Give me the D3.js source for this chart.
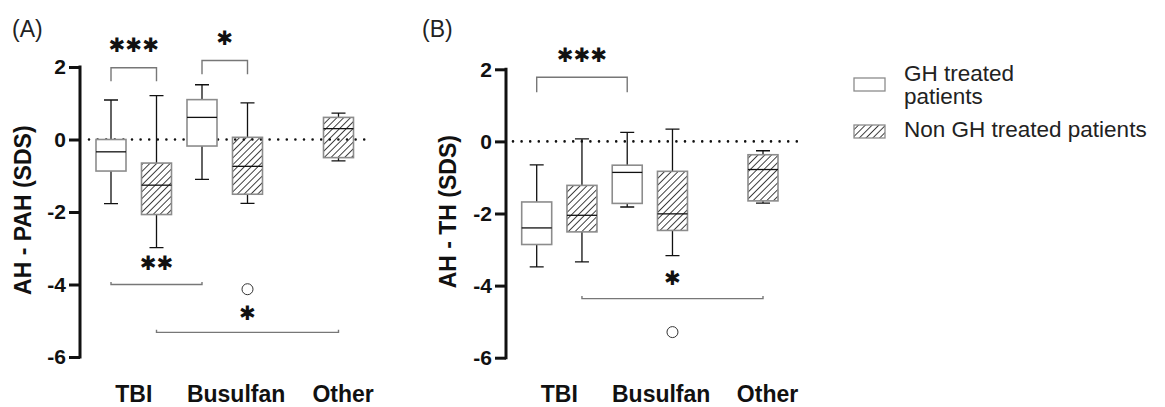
<!DOCTYPE html>
<html>
<head>
<meta charset="utf-8">
<script src="https://cdn.jsdelivr.net/npm/d3@7"></script>
<style>
  html, body { margin: 0; padding: 0; background: #fff; }
</style>
</head>
<body>
<div id="chart"></div>
<script>

// Data (box stats: whisker low, q1, median, q3, whisker high)
var categories = ['TBI', 'Busulfan', 'Other'];
var groups = ['GH treated patients', 'Non GH treated patients'];
var yTicks = [2, 0, -2, -4, -6];

// slot: 0 TBI/GH, 1 TBI/Non GH, 2 Busulfan/GH, 3 Busulfan/Non GH, 5 Other/Non GH
var boxesA = [
  { slot: 0, group: 0, stats: [-1.77, -0.87, -0.34, 0.00, 1.09] },
  { slot: 1, group: 1, stats: [-2.98, -2.07, -1.26, -0.65, 1.21] },
  { slot: 2, group: 0, stats: [-1.10, -0.18, 0.61, 1.10, 1.51] },
  { slot: 3, group: 1, stats: [-1.76, -1.51, -0.74, 0.06, 1.01] },
  { slot: 5, group: 1, stats: [-0.59, -0.50, 0.30, 0.61, 0.73] }
];
var outliersA = [{ slot: 3, value: -4.13 }];
var sigA = [
  { from: 0, to: 1, y: 1.98, leg: 1.61, label: '✱✱✱', labelY: 2.6 },
  { from: 2, to: 3, y: 2.18, leg: 1.80, label: '✱', labelY: 2.8 },
  { from: 0, to: 2, y: -4.00, leg: -3.93, label: '✱✱', labelY: -3.39 },
  { from: 1, to: 5, y: -5.32, leg: -5.25, label: '✱', labelY: -4.77 }
];

var boxesB = [
  { slot: 0, group: 0, stats: [-3.48, -2.86, -2.40, -1.68, -0.65] },
  { slot: 1, group: 1, stats: [-3.34, -2.51, -2.05, -1.22, 0.07] },
  { slot: 2, group: 0, stats: [-1.82, -1.72, -0.86, -0.66, 0.25] },
  { slot: 3, group: 1, stats: [-3.17, -2.47, -2.01, -0.83, 0.34] },
  { slot: 5, group: 1, stats: [-1.71, -1.65, -0.78, -0.37, -0.26] }
];
var outliersB = [{ slot: 3, value: -5.29 }];
var sigB = [
  { from: 0, to: 2, y: 1.78, leg: 1.36, label: '✱✱✱', labelY: 2.4 },
  { from: 1, to: 5, y: -4.36, leg: -4.29, label: '✱', labelY: -3.78 }
];

var font = 'Arial, "Liberation Sans", Helvetica, sans-serif';
var starFont = '"DejaVu Sans", sans-serif';

var svg = d3.select('#chart').append('svg')
  .attr('width', 1165)
  .attr('height', 407)
  .attr('font-family', font);

// hatch pattern for the non GH boxes
var defs = svg.append('defs');
defs.append('pattern')
  .attr('id', 'hatch')
  .attr('patternUnits', 'userSpaceOnUse')
  .attr('width', 4.8)
  .attr('height', 4.8)
  .attr('patternTransform', 'rotate(45)')
  .append('line')
  .attr('x1', 0).attr('y1', -1)
  .attr('x2', 0).attr('y2', 6)
  .attr('stroke', '#111')
  .attr('stroke-width', 1.6);

function fillFor(group) {
  return group === 1 ? 'url(#hatch)' : '#fff';
}

// ---------- one panel ----------
function drawPanel(p) {
  var g = svg.append('g');

  var y = d3.scaleLinear().domain([-6, 2]).range([p.yBottom, p.yTop]);
  var x = d3.scaleLinear().domain([0, 5]).range([p.slot0, p.slot5]);
  var boxW = 30, capW = 14;

  // panel tag
  g.append('text')
    .attr('x', p.tagX).attr('y', 37)
    .attr('font-size', 23)
    .attr('fill', '#222')
    .text(p.tag);

  // y axis
  var axis = g.append('g')
    .attr('transform', 'translate(' + p.axisX + ',0)')
    .call(d3.axisLeft(y).tickValues(yTicks).tickSize(11).tickPadding(3).tickFormat(d3.format('d')));
  axis.select('.domain').remove();
  axis.selectAll('.tick line').attr('stroke', '#111').attr('stroke-width', 3);
  axis.selectAll('.tick text')
    .attr('font-family', font)
    .attr('font-size', 21)
    .attr('font-weight', 'bold')
    .attr('fill', '#111')
    .text(function (d) { return d < 0 ? '-' + Math.abs(d) : d; });
  axis.append('line')
    .attr('x1', 0).attr('x2', 0)
    .attr('y1', y(2) - 1.5).attr('y2', y(-6) + 1.5)
    .attr('stroke', '#111').attr('stroke-width', 3);

  // y title
  g.append('text')
    .attr('transform', 'translate(' + p.titleX + ',' + y(-1.95) + ') rotate(-90)')
    .attr('text-anchor', 'middle')
    .attr('font-size', 23)
    .attr('font-weight', 'bold')
    .attr('fill', '#111')
    .text(p.title);

  // dotted zero line
  g.append('line')
    .attr('x1', p.dotFrom).attr('x2', p.dotTo)
    .attr('y1', y(0)).attr('y2', y(0))
    .attr('stroke', '#111')
    .attr('stroke-width', 2.6)
    .attr('stroke-linecap', 'round')
    .attr('stroke-dasharray', '0 8.6');

  // boxes
  var box = g.selectAll('.box').data(p.boxes).enter().append('g')
    .attr('class', 'box')
    .attr('transform', function (d) { return 'translate(' + x(d.slot) + ',0)'; });

  // whiskers: [end, box edge] for the upper and lower one, cap at the end
  box.selectAll('.whisker')
    .data(function (d) { return [[d.stats[4], d.stats[3]], [d.stats[0], d.stats[1]]]; })
    .enter().append('path')
    .attr('class', 'whisker')
    .attr('d', function (w) {
      return 'M0,' + y(w[0]) + 'V' + y(w[1]) +
        'M' + (-capW / 2) + ',' + y(w[0]) + 'H' + (capW / 2);
    })
    .attr('fill', 'none')
    .attr('stroke', '#111').attr('stroke-width', 1.3);
  box.append('rect')
    .attr('x', -boxW / 2)
    .attr('width', boxW)
    .attr('y', function (d) { return y(d.stats[3]); })
    .attr('height', function (d) { return y(d.stats[1]) - y(d.stats[3]); })
    .attr('fill', function (d) { return fillFor(d.group); })
    .attr('stroke', '#8c8c8c')
    .attr('stroke-width', 1.6);
  box.append('line')
    .attr('x1', -boxW / 2).attr('x2', boxW / 2)
    .attr('y1', function (d) { return y(d.stats[2]); })
    .attr('y2', function (d) { return y(d.stats[2]); })
    .attr('stroke', '#111').attr('stroke-width', 1.3);

  // outliers
  g.selectAll('.outlier').data(p.outliers).enter().append('circle')
    .attr('class', 'outlier')
    .attr('cx', function (d) { return x(d.slot); })
    .attr('cy', function (d) { return y(d.value); })
    .attr('r', 5.5)
    .attr('fill', '#fff')
    .attr('stroke', '#333')
    .attr('stroke-width', 1);

  // significance brackets
  var sig = g.selectAll('.sig').data(p.sig).enter().append('g').attr('class', 'sig');
  sig.append('path')
    .attr('d', function (d) {
      var x0 = x(d.from), x1 = x(d.to);
      return 'M' + x0 + ',' + y(d.leg) + 'V' + y(d.y) + 'H' + x1 + 'V' + y(d.leg);
    })
    .attr('fill', 'none')
    .attr('stroke', '#777')
    .attr('stroke-width', 1.4);
  sig.append('text')
    .attr('x', function (d) { return (x(d.from) + x(d.to)) / 2; })
    .attr('y', function (d) { return y(d.labelY); })
    .attr('dy', '0.36em')
    .attr('text-anchor', 'middle')
    .attr('font-family', starFont)
    .attr('font-weight', 'bold')
    .attr('font-size', 20)
    .attr('fill', '#111')
    .text(function (d) { return d.label; });

  // category labels (no x axis line in the figure)
  var labelSlot = [0.5, 2.75, 5.1];
  g.selectAll('.cat').data(categories).enter().append('text')
    .attr('class', 'cat')
    .attr('x', function (d, i) { return x(labelSlot[i]); })
    .attr('y', 402)
    .attr('text-anchor', 'middle')
    .attr('font-size', 23)
    .attr('font-weight', 'bold')
    .attr('fill', '#111')
    .text(function (d) { return d; });
}

drawPanel({
  tag: '(A)', tagX: 12, title: 'AH - PAH (SDS)', titleX: 31,
  axisX: 80, yTop: 67, yBottom: 357, slot0: 111, slot5: 338.5,
  dotFrom: 89, dotTo: 368,
  boxes: boxesA, outliers: outliersA, sig: sigA
});

drawPanel({
  tag: '(B)', tagX: 422, title: 'AH - TH (SDS)', titleX: 456,
  axisX: 506, yTop: 69.3, yBottom: 357.7, slot0: 536.7, slot5: 763,
  dotFrom: 513, dotTo: 797,
  boxes: boxesB, outliers: outliersB, sig: sigB
});

// ---------- legend ----------
var legend = svg.append('g').attr('transform', 'translate(854,0)');
var legendRows = [
  { group: 0, boxY: 78, lines: ['GH treated', 'patients'], textY: 81 },
  { group: 1, boxY: 125, lines: [groups[1]], textY: 137 }
];
legendRows.forEach(function (r) {
  legend.append('rect')
    .attr('x', 0).attr('y', r.boxY)
    .attr('width', 31).attr('height', 13)
    .attr('fill', fillFor(r.group))
    .attr('stroke', '#8c8c8c')
    .attr('stroke-width', 1.3);
  var t = legend.append('text')
    .attr('x', 50).attr('y', r.textY)
    .attr('font-size', 22.5)
    .attr('fill', '#222');
  r.lines.forEach(function (line, i) {
    t.append('tspan').attr('x', 50).attr('dy', i === 0 ? 0 : 22.6).text(line);
  });
});

</script>
</body>
</html>
